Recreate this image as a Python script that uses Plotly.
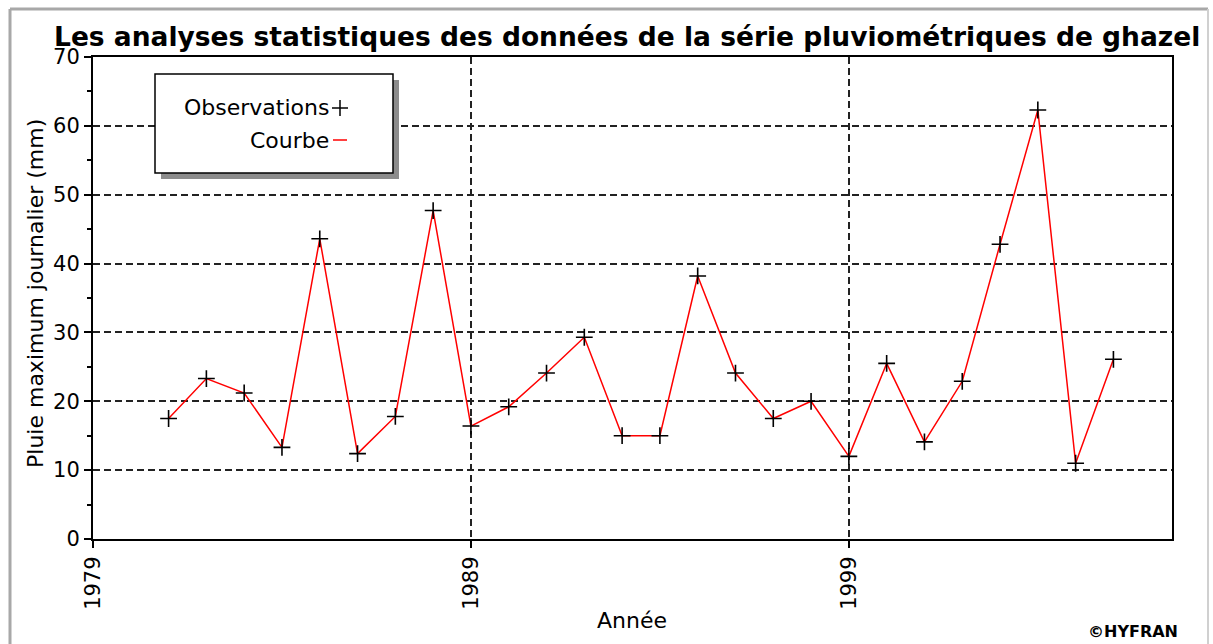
import plotly.graph_objects as go

# ---- data ----
years = list(range(1981, 2007))
pluie_max = [17.5, 23.3, 21.2, 13.3, 43.6, 12.4, 17.8, 47.7, 16.4, 19.2,
             24.1, 29.3, 15.0, 15.0, 38.2, 24.1, 17.5, 20.0, 12.0, 25.5,
             14.1, 22.9, 42.8, 62.3, 11.0, 26.1]
title_text = "Les analyses statistiques des données de la série pluviométriques de ghazel"
x_title = "Année"
y_title = "Pluie maximum journalier (mm)"
legend_labels = ["Observations", "Courbe"]

W, H = 1213, 644
L, R, T, B = 93, 41, 57, 105
PW, PH = W - L - R, H - T - B

def px(x):
    return (x - L) / PW

def py(y):
    return (H - B - y) / PH

FONT = "DejaVu Sans"

fig = go.Figure()
fig.add_trace(go.Scatter(x=years, y=pluie_max, mode="lines",
                         line=dict(color="red", width=1.5),
                         name=legend_labels[1], showlegend=False))
fig.add_trace(go.Scatter(x=years, y=pluie_max, mode="markers",
                         marker=dict(symbol="cross-thin", size=12, color="black",
                                     line=dict(width=1.6, color="black")),
                         name=legend_labels[0], showlegend=False))

shapes = []
# outer grey frame
shapes.append(dict(type="line", xref="paper", yref="paper", x0=px(10), x1=px(10),
                   y0=py(9), y1=py(650), line=dict(color="#a8a8a8", width=3), layer="above"))
shapes.append(dict(type="line", xref="paper", yref="paper", x0=px(10), x1=px(1208),
                   y0=py(9), y1=py(9), line=dict(color="#a8a8a8", width=3), layer="above"))
shapes.append(dict(type="line", xref="paper", yref="paper", x0=px(1208), x1=px(1208),
                   y0=py(9), y1=py(650), line=dict(color="#d0d0d0", width=2), layer="above"))
# legend shadow + box
shapes.append(dict(type="rect", xref="paper", yref="paper", x0=px(161), x1=px(399),
                   y0=py(80), y1=py(179), fillcolor="#8c8c8c", line=dict(width=0), layer="above"))
shapes.append(dict(type="rect", xref="paper", yref="paper", x0=px(155), x1=px(393),
                   y0=py(74), y1=py(173), fillcolor="white",
                   line=dict(color="black", width=1.5), layer="above"))
# legend symbols
shapes.append(dict(type="line", xref="paper", yref="paper", x0=px(332), x1=px(348),
                   y0=py(108), y1=py(108), line=dict(color="black", width=1.5), layer="above"))
shapes.append(dict(type="line", xref="paper", yref="paper", x0=px(340), x1=px(340),
                   y0=py(100), y1=py(116), line=dict(color="black", width=1.5), layer="above"))
shapes.append(dict(type="line", xref="paper", yref="paper", x0=px(333), x1=px(347),
                   y0=py(140), y1=py(140), line=dict(color="red", width=1.5), layer="above"))

annotations = [
    dict(text=f"<b>{title_text}</b>", xref="paper", yref="paper", x=px(627), y=py(37),
         xanchor="center", yanchor="middle", showarrow=False,
         font=dict(family=FONT, size=26.5, color="black")),
    dict(text=x_title, xref="paper", yref="paper", x=px(632), y=py(620),
         xanchor="center", yanchor="middle", showarrow=False,
         font=dict(family=FONT, size=22, color="black")),
    dict(text=y_title, xref="paper", yref="paper", x=px(35), y=py(294),
         xanchor="center", yanchor="middle", showarrow=False, textangle=-90,
         font=dict(family=FONT, size=22, color="black")),
    dict(text="<b>©HYFRAN</b>", xref="paper", yref="paper", x=px(1180), y=py(631),
         xanchor="right", yanchor="middle", showarrow=False,
         font=dict(family=FONT, size=16, color="black")),
    dict(text=legend_labels[0], xref="paper", yref="paper", x=px(331), y=py(108),
         xanchor="right", yanchor="middle", showarrow=False,
         font=dict(family=FONT, size=22, color="black")),
    dict(text=legend_labels[1], xref="paper", yref="paper", x=px(331), y=py(140),
         xanchor="right", yanchor="middle", showarrow=False,
         font=dict(family=FONT, size=22, color="black")),
]

fig.update_layout(
    width=W, height=H,
    margin=dict(l=L, r=R, t=T, b=B, pad=0),
    paper_bgcolor="white", plot_bgcolor="white",
    showlegend=False,
    shapes=shapes, annotations=annotations,
    font=dict(family=FONT, size=21, color="black"),
)
fig.update_xaxes(range=[1979, 2007.55], tick0=1979, dtick=10, tickangle=-90,
                 ticks="outside", ticklen=7, tickwidth=1.5, tickcolor="black",
                 showline=True, linecolor="black", linewidth=2, mirror=True,
                 showgrid=True, gridcolor="#222", gridwidth=1.5, griddash="7px,4px",
                 zeroline=False, tickfont=dict(family=FONT, size=21, color="black"))
fig.update_yaxes(range=[0, 70], tick0=0, dtick=10,
                 ticks="outside", ticklen=7, tickwidth=1.5, tickcolor="black",
                 minor=dict(dtick=5, ticks="outside", ticklen=4, tickwidth=1.5,
                            tickcolor="black", showgrid=False),
                 showline=True, linecolor="black", linewidth=2, mirror=True,
                 showgrid=True, gridcolor="#222", gridwidth=1.5, griddash="7px,4px",
                 zeroline=False, tickfont=dict(family=FONT, size=21, color="black"))

fig.write_html("out.html", config={"displayModeBar": False},
               post_script="document.body.style.margin='0';")
